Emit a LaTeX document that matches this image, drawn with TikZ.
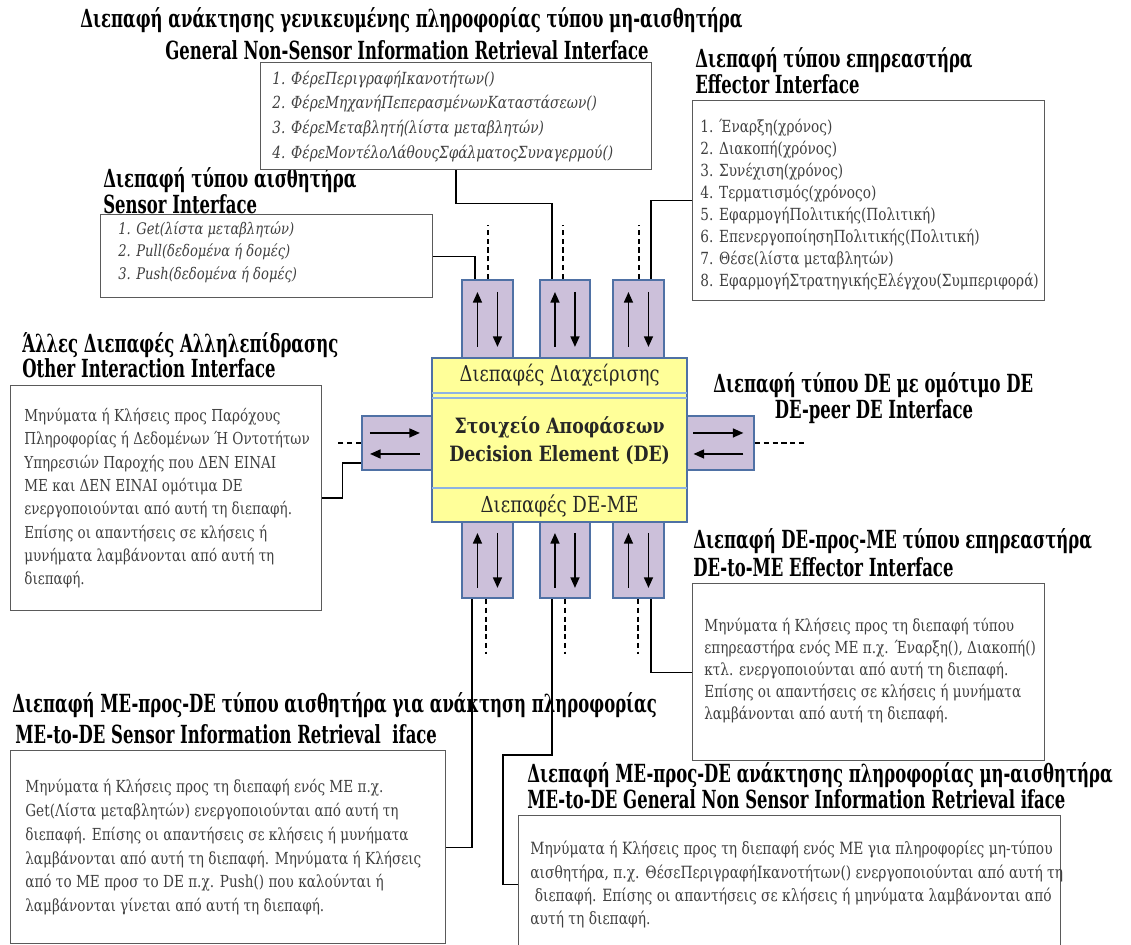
\documentclass[tikz,border=0pt]{standalone}
\usepackage{fontspec}
\setmainfont{DejaVu Serif}[FakeStretch=0.82]
\newfontfamily\headfont{DejaVu Serif}[FakeStretch=0.66]
\usetikzlibrary{calc,arrows.meta}

\definecolor{portfill}{RGB}{204,192,218}
\definecolor{portline}{RGB}{79,113,165}
\definecolor{deyellow}{RGB}{255,255,153}
\definecolor{bandline}{RGB}{141,179,226}
\definecolor{boxline}{RGB}{90,90,90}
\definecolor{bodytext}{RGB}{64,64,64}

\tikzset{
  box/.style={draw=boxline, line width=0.8pt, fill=white, inner sep=0pt, anchor=north west},
  head/.style={font=\headfont\fontsize{14.2}{16}\selectfont\bfseries, inner sep=0pt, anchor=west},
  body/.style={text=bodytext, font=\fontsize{9.45}{13.3}\selectfont, align=left, inner sep=0pt, anchor=west},
  listit/.style={body, font=\fontsize{9.5}{14}\selectfont\itshape},
  port/.style={draw=portline, fill=portfill, line width=1.1pt, inner sep=0pt, anchor=north west},
  flow/.style={line width=1.1pt, -{Triangle[length=6pt,width=5pt]}},
  wire/.style={line width=0.8pt},
  stub/.style={line width=0.7pt, dash pattern=on 3pt off 2pt},
}

\begin{document}
\begin{tikzpicture}[x=0.02cm,y=-0.02cm]
\useasboundingbox (0,0) rectangle (1131,944);

% ---------- headings ----------
\node[head] (hgen-gr) at (80,20) {Διεπαφή ανάκτησης γενικευμένης πληροφορίας τύπου μη-αισθητήρα};
\node[head] (hgen-en) at (165,50) {General Non-Sensor Information Retrieval Interface};
\node[head] (heff-gr) at (695,60) {Διεπαφή τύπου επηρεαστήρα};
\node[head] (heff-en) at (695,84) {Effector Interface};
\node[head] (hsen-gr) at (103,180) {Διεπαφή τύπου αισθητήρα};
\node[head] (hsen-en) at (103,204) {Sensor Interface};
\node[head] (hoth-gr) at (22,345) {Άλλες Διεπαφές Αλληλεπίδρασης};
\node[head] (hoth-en) at (22,368) {Other Interaction Interface};
\node[head] (hpeer-gr) at (713,385) {Διεπαφή τύπου DE με ομότιμο DE};
\node[head, anchor=center] (hpeer-en) at (874,412) {DE-peer DE Interface};
\node[head] (hd2m-gr) at (693,541) {Διεπαφή DE-προς-ME τύπου επηρεαστήρα};
\node[head] (hd2m-en) at (693,567) {DE-to-ME Effector Interface};
\node[head] (hm2ds-gr) at (12,705) {Διεπαφή ME-προς-DE τύπου αισθητήρα για ανάκτηση πληροφορίας};
\node[head] (hm2ds-en) at (15,734) {ME-to-DE Sensor Information Retrieval\ \ iface};
\node[head] (hm2dg-gr) at (527,775) {Διεπαφή ME-προς-DE ανάκτησης πληροφορίας μη-αισθητήρα};
\node[head] (hm2dg-en) at (527,799) {ME-to-DE General Non Sensor Information Retrieval iface};

% ---------- description boxes ----------
\node[box, minimum width=7.82cm, minimum height=2.14cm] (gen) at (260,62) {};
\node[listit] (gen-t) at ($(gen.west)+(12,0)$) {1. ΦέρεΠεριγραφήΙκανοτήτων()\\2. ΦέρεΜηχανήΠεπερασμένωνΚαταστάσεων()\\3. ΦέρεΜεταβλητή(λίστα μεταβλητών)\\4. ΦέρεΜοντέλοΛάθουςΣφάλματοςΣυναγερμού()};

\node[box, minimum width=7.04cm, minimum height=4.0cm] (eff) at (692,100) {};
\node[body, font=\fontsize{9.5}{12.5}\selectfont] (eff-t) at ($(eff.west)+(8,4)$) {1. Έναρξη(χρόνος)\\2. Διακοπή(χρόνος)\\3. Συνέχιση(χρόνος)\\4. Τερματισμός(χρόνοςο)\\5. ΕφαρμογήΠολιτικής(Πολιτική)\\6. ΕπενεργοποίησηΠολιτικής(Πολιτική)\\7. Θέσε(λίστα μεταβλητών)\\8. ΕφαρμογήΣτρατηγικήςΕλέγχου(Συμπεριφορά)};

\node[box, minimum width=6.64cm, minimum height=1.66cm] (sen) at (100,214) {};
\node[listit, font=\fontsize{9.1}{13}\selectfont\itshape] (sen-t) at ($(sen.west)+(18,-4)$) {1. Get(λίστα μεταβλητών)\\2. Pull(δεδομένα ή δομές)\\3. Push(δεδομένα ή δομές)};

\node[box, minimum width=6.22cm, minimum height=4.5cm] (oth) at (10,385) {};
\node[body, font=\fontsize{9.4}{13.3}\selectfont] (oth-t) at ($(oth.west)+(14,0)$) {Μηνύματα ή Κλήσεις προς Παρόχους\\Πληροφορίας ή Δεδομένων Ή Οντοτήτων\\Υπηρεσιών Παροχής που ΔΕΝ ΕΙΝΑΙ\\ME και ΔΕΝ ΕΙΝΑΙ ομότιμα DE\\ενεργοποιούνται από αυτή τη διεπαφή.\\Επίσης οι απαντήσεις σε κλήσεις ή\\μυνήματα λαμβάνονται από αυτή τη\\διεπαφή.};

\node[box, minimum width=7.04cm, minimum height=3.54cm] (d2m) at (692,583) {};
\node[body, font=\fontsize{9.45}{12.5}\selectfont] (d2m-t) at ($(d2m.west)+(12,-2)$) {Μηνύματα ή Κλήσεις προς τη διεπαφή τύπου\\επηρεαστήρα ενός ME π.χ. Έναρξη(), Διακοπή()\\κτλ. ενεργοποιούνται από αυτή τη διεπαφή.\\Επίσης οι απαντήσεις σε κλήσεις ή μυνήματα\\λαμβάνονται από αυτή τη διεπαφή.};

\node[box, minimum width=8.7cm, minimum height=3.86cm] (m2ds) at (10,750) {};
\node[body, font=\fontsize{9.45}{13.6}\selectfont] (m2ds-t) at ($(m2ds.west)+(15,0)$) {Μηνύματα ή Κλήσεις προς τη διεπαφή ενός ME π.χ.\\Get(Λίστα μεταβλητών) ενεργοποιούνται από αυτή τη\\διεπαφή. Επίσης οι απαντήσεις σε κλήσεις ή μυνήματα\\λαμβάνονται από αυτή τη διεπαφή. Μηνύματα ή Κλήσεις\\από το ME προσ το DE π.χ. Push() που καλούνται ή\\λαμβάνονται γίνεται από αυτή τη διεπαφή.};

\node[box, minimum width=10.84cm, minimum height=2.76cm] (m2dg) at (518,815) {};
\node[body, font=\fontsize{9.6}{13.2}\selectfont] (m2dg-t) at ($(m2dg.west)+(12,0)$) {Μηνύματα ή Κλήσεις προς τη διεπαφή ενός ME για πληροφορίες μη-τύπου\\αισθητήρα, π.χ. ΘέσεΠεριγραφήΙκανοτήτων() ενεργοποιούνται από αυτή τη\\\ διεπαφή. Επίσης οι απαντήσεις σε κλήσεις ή μηνύματα λαμβάνονται από\\αυτή τη διεπαφή.};

% ---------- interface ports ----------
\node[port, minimum width=1.02cm, minimum height=1.56cm] (tp1) at (461,279) {};
\node[port, minimum width=1.0cm,  minimum height=1.56cm] (tp2) at (539,279) {};
\node[port, minimum width=1.02cm, minimum height=1.56cm] (tp3) at (612,279) {};
\node[port, minimum width=1.02cm, minimum height=1.52cm] (bp1) at (461,521) {};
\node[port, minimum width=1.0cm,  minimum height=1.52cm] (bp2) at (539,521) {};
\node[port, minimum width=1.02cm, minimum height=1.52cm] (bp3) at (612,521) {};
\node[port, minimum width=1.4cm,  minimum height=1.08cm] (lp) at (361,415) {};
\node[port, minimum width=1.34cm, minimum height=1.08cm] (rp) at (686,415) {};

% two-way traffic inside each port
\foreach \p in {tp1,tp2,tp3,bp1,bp2,bp3}{
  \draw[flow] ($(\p.center)+(-10,28)$) -- ($(\p.center)+(-10,-27)$);
  \draw[flow] ($(\p.center)+(10,-27)$) -- ($(\p.center)+(10,28)$);
}
\foreach \p in {lp,rp}{
  \draw[flow] ($(\p.center)+(-27,-10)$) -- ($(\p.center)+(23,-10)$);
  \draw[flow] ($(\p.center)+(23,11)$) -- ($(\p.center)+(-27,11)$);
}

% ---------- decision element ----------
\node[draw=portline, fill=deyellow, line width=1.3pt, inner sep=0pt, anchor=north west,
      minimum width=5.1cm, minimum height=3.28cm] (de) at (431,357) {};
\draw[bandline, line width=0.9pt] ($(de.north west)+(1,36)$) -- ($(de.north east)+(-1,36)$);
\draw[bandline, line width=0.9pt] ($(de.north west)+(1,41)$) -- ($(de.north east)+(-1,41)$);
\draw[bandline, line width=0.9pt] ($(de.north west)+(1,131)$) -- ($(de.north east)+(-1,131)$);
\node[font=\fontsize{12.4}{15}\selectfont, text=black!85, inner sep=0pt] (mgmt) at ($(de.north)+(0,18)$) {Διεπαφές Διαχείρισης};
\node[font=\fontsize{12}{16}\selectfont\bfseries, text=black!85, align=center, inner sep=0pt] (core) at ($(de.north)+(0,84)$) {Στοιχείο Αποφάσεων\\Decision Element (DE)};
\node[font=\fontsize{12.6}{15}\selectfont, text=black!85, inner sep=0pt] (deme) at ($(de.south)+(0,-17)$) {Διεπαφές DE-ME};

% ---------- connectors ----------
\draw[wire] ($(tp1.north west)+(14,0)$) |- (sen.east);
\draw[wire] ($(tp2.north west)+(13,0)$) |- ($(gen.south)+(0,33)$) -- (gen.south);
\draw[wire] ($(tp3.north west)+(39,0)$) |- (eff.west);
\draw[wire] ($(lp.south west)+(0,-8)$) -| ($(oth.east)+(20,0)$) -- (oth.east);
\draw[wire] ($(bp1.south west)+(11,0)$) |- (m2ds.east);
\coordinate (k2) at ($(m2dg.west)+(-15,0)$);
\draw[wire] ($(bp2.south west)+(13,0)$) -- ++(0,156) -| (k2) -- (m2dg.west);
\draw[wire] ($(bp3.south west)+(39,0)$) |- (d2m.west);

% open dashed stubs
\coordinate (tp1-free) at ($(tp1.north)+(0.5,-54)$);
\coordinate (tp2-free) at ($(tp2.north)+(-2,-54)$);
\coordinate (tp3-free) at ($(tp3.north)+(0.5,-54)$);
\coordinate (bp1-free) at ($(bp1.south)+(-1.5,55)$);
\coordinate (bp2-free) at ($(bp2.south)+(0,55)$);
\coordinate (bp3-free) at ($(bp3.south)+(-0.5,55)$);
\coordinate (lp-free) at ($(lp.west)+(-25,0)$);
\coordinate (rp-free) at ($(rp.east)+(50,0)$);
\foreach \p in {tp1,tp2,tp3}{ \draw[stub] (\p.north -| \p-free) -- (\p-free); }
\foreach \p in {bp1,bp2,bp3}{ \draw[stub] (\p.south -| \p-free) -- (\p-free); }
\draw[stub] (lp.west) -- (lp-free);
\draw[stub] (rp.east) -- (rp-free);
\end{tikzpicture}
\end{document}
